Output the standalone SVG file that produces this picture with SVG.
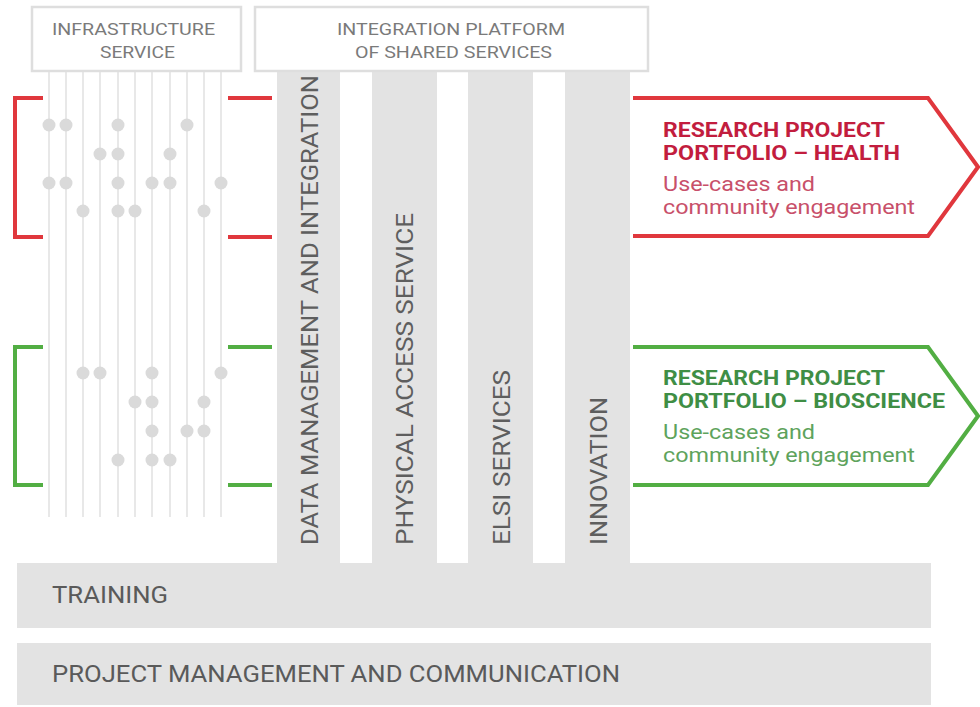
<svg xmlns="http://www.w3.org/2000/svg" width="980" height="707" viewBox="0 0 980 707">
<style>
.bg{fill:#ffffff}
.box{fill:#ffffff;stroke:#dedede;stroke-width:2.5}
.col{fill:#e3e3e3}
.bar{fill:#e3e3e3}
.vl{stroke:#e8e8e8;stroke-width:2;fill:none}
.dot{fill:#dadada}
.hdr{font-family:Roboto,"Liberation Sans",sans-serif;font-size:16px;fill:#7a7a7a}
.lbl{font-family:Roboto,"Liberation Sans",sans-serif;font-size:24px;fill:#5a5a5a}
.vt{font-family:Roboto,"Liberation Sans",sans-serif;font-size:24px;fill:#5e5e5e}
.red{stroke:#e0373d;stroke-width:4;fill:none}
.grn{stroke:#52ae43;stroke-width:4;fill:none}
.rt{font-family:Roboto,"Liberation Sans",sans-serif;font-size:20px;font-weight:bold;fill:#c21d3e}
.rb{font-family:Roboto,"Liberation Sans",sans-serif;font-size:20px;fill:#c8506a}
.gt{font-family:Roboto,"Liberation Sans",sans-serif;font-size:20px;font-weight:bold;fill:#3f8e45}
.gb{font-family:Roboto,"Liberation Sans",sans-serif;font-size:20px;fill:#5ea35c}
</style>
<rect class="bg" x="0" y="0" width="980" height="707"/>

<g id="columns">
  <rect class="col" x="277" y="71" width="63" height="500"/>
  <rect class="col" x="372" y="71" width="65" height="500"/>
  <rect class="col" x="468" y="71" width="65" height="500"/>
  <rect class="col" x="565" y="71" width="65" height="500"/>
</g>

<g id="training">
  <rect class="bar" x="17" y="563" width="914" height="65"/>
  <text class="lbl" x="52" y="603" textLength="116" lengthAdjust="spacingAndGlyphs">TRAINING</text>
</g>
<g id="project-management">
  <rect class="bar" x="17" y="643" width="914" height="62"/>
  <text class="lbl" x="52" y="682" textLength="568" lengthAdjust="spacingAndGlyphs">PROJECT MANAGEMENT AND COMMUNICATION</text>
</g>

<g id="infra-lines">
  <path class="vl" d="M49 71V517M66 71V517M83 71V517M100 71V517M118 71V517M135 71V517M152 71V517M170 71V517M187 71V517M204 71V517M221 71V517"/>
  <g class="dot">
    <circle cx="49" cy="125" r="6.5"/><circle cx="66" cy="125" r="6.5"/><circle cx="118" cy="125" r="6.5"/><circle cx="187" cy="125" r="6.5"/>
    <circle cx="100" cy="154" r="6.5"/><circle cx="118" cy="154" r="6.5"/><circle cx="170" cy="154" r="6.5"/>
    <circle cx="49" cy="183" r="6.5"/><circle cx="66" cy="183" r="6.5"/><circle cx="118" cy="183" r="6.5"/><circle cx="152" cy="183" r="6.5"/><circle cx="170" cy="183" r="6.5"/><circle cx="221" cy="183" r="6.5"/>
    <circle cx="83" cy="211" r="6.5"/><circle cx="118" cy="211" r="6.5"/><circle cx="135" cy="211" r="6.5"/><circle cx="204" cy="211" r="6.5"/>
    <circle cx="83" cy="373" r="6.5"/><circle cx="100" cy="373" r="6.5"/><circle cx="152" cy="373" r="6.5"/><circle cx="221" cy="373" r="6.5"/>
    <circle cx="135" cy="402" r="6.5"/><circle cx="152" cy="402" r="6.5"/><circle cx="204" cy="402" r="6.5"/>
    <circle cx="152" cy="431" r="6.5"/><circle cx="187" cy="431" r="6.5"/><circle cx="204" cy="431" r="6.5"/>
    <circle cx="118" cy="460" r="6.5"/><circle cx="152" cy="460" r="6.5"/><circle cx="170" cy="460" r="6.5"/>
  </g>
</g>

<g id="infrastructure-service">
  <rect class="box" x="32" y="7" width="209" height="64"/>
  <text class="hdr" x="52" y="35" textLength="163" lengthAdjust="spacingAndGlyphs">INFRASTRUCTURE</text>
  <text class="hdr" x="100" y="58" textLength="75" lengthAdjust="spacingAndGlyphs">SERVICE</text>
</g>

<g id="integration-platform">
  <rect class="box" x="255" y="7" width="393" height="64"/>
  <text class="hdr" x="337" y="35" textLength="228" lengthAdjust="spacingAndGlyphs">INTEGRATION PLATFORM</text>
  <text class="hdr" x="355" y="58" textLength="197" lengthAdjust="spacingAndGlyphs">OF SHARED SERVICES</text>
</g>

<g id="data-management">
  <text class="vt" transform="translate(317.5,545) rotate(-90)" textLength="470" lengthAdjust="spacingAndGlyphs">DATA MANAGEMENT AND INTEGRATION</text>
</g>
<g id="physical-access">
  <text class="vt" transform="translate(413,545) rotate(-90)" textLength="332" lengthAdjust="spacingAndGlyphs">PHYSICAL ACCESS SERVICE</text>
</g>
<g id="elsi">
  <text class="vt" transform="translate(510,545) rotate(-90)" textLength="175" lengthAdjust="spacingAndGlyphs">ELSI SERVICES</text>
</g>
<g id="innovation">
  <text class="vt" transform="translate(606.5,545) rotate(-90)" textLength="148" lengthAdjust="spacingAndGlyphs">INNOVATION</text>
</g>

<g id="connectors">
  <path class="red" d="M43 98H15V237H43"/>
  <path class="red" d="M228 98H272M228 237H272"/>
  <path class="grn" d="M43 347H15V485H43"/>
  <path class="grn" d="M228 347H272M228 485H272"/>
</g>

<g id="portfolio-health">
  <path class="red" d="M633 98H928L978 167L928 236H633"/>
  <text class="rt" x="663" y="137" textLength="222" lengthAdjust="spacingAndGlyphs">RESEARCH PROJECT</text>
  <text class="rt" x="663" y="160" textLength="237" lengthAdjust="spacingAndGlyphs">PORTFOLIO – HEALTH</text>
  <text class="rb" x="663" y="191" textLength="152" lengthAdjust="spacingAndGlyphs">Use-cases and</text>
  <text class="rb" x="663" y="214" textLength="252" lengthAdjust="spacingAndGlyphs">community engagement</text>
</g>

<g id="portfolio-bioscience">
  <path class="grn" d="M633 347H928L978 416L928 485H633"/>
  <text class="gt" x="663" y="385" textLength="222" lengthAdjust="spacingAndGlyphs">RESEARCH PROJECT</text>
  <text class="gt" x="663" y="408" textLength="282" lengthAdjust="spacingAndGlyphs">PORTFOLIO – BIOSCIENCE</text>
  <text class="gb" x="663" y="439" textLength="152" lengthAdjust="spacingAndGlyphs">Use-cases and</text>
  <text class="gb" x="663" y="462" textLength="252" lengthAdjust="spacingAndGlyphs">community engagement</text>
</g>
</svg>
